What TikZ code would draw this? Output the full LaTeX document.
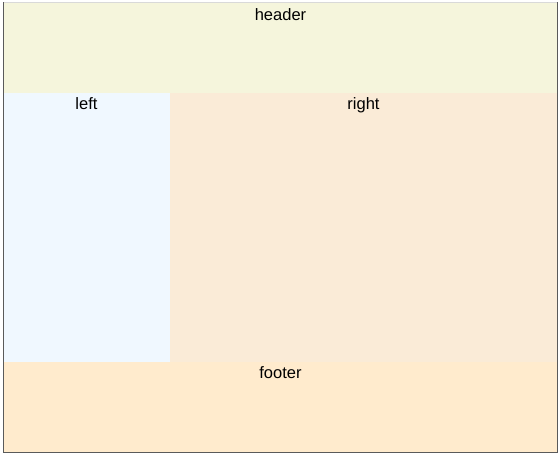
\documentclass[tikz,border=0pt]{standalone}
\usepackage{fontspec}
\setmainfont{Liberation Sans}
\definecolor{hdr}{HTML}{F5F5DC}
\definecolor{lft}{HTML}{F0F8FF}
\definecolor{rgt}{HTML}{FAEBD7}
\definecolor{ftr}{HTML}{FFEBCD}
\definecolor{frame}{HTML}{5A5A5A}
\tikzset{
  lbl/.style={font=\fontsize{16.5}{19}\selectfont, inner sep=0pt, text=black, anchor=base}
}
\begin{document}
\begin{tikzpicture}[x=1pt,y=-1pt]
\useasboundingbox (0,0) rectangle (560,456);
\fill[white] (0,0) rectangle (560,456);
\fill[hdr] (3,3) rectangle (557,93);
\fill[lft] (3,93) rectangle (170,362);
\fill[rgt] (170,93) rectangle (557,362);
\fill[ftr] (3,362) rectangle (557,452);
\draw[gray!30, line width=1pt] (3,2.5) -- (557,2.5);
\draw[frame, line width=1pt] (3.5,2) -- (3.5,452.5) -- (557.5,452.5) -- (557.5,2);
\node[lbl] (header) at (280.5,20.5) {header};
\node[lbl] (left) at (86.5,109.5) {left};
\node[lbl] (right) at (363.5,109.5) {right};
\node[lbl] (footer) at (280.5,378.5) {footer};
\end{tikzpicture}
\end{document}
